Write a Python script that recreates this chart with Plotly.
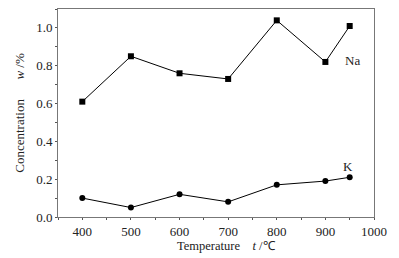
import plotly.graph_objects as go

temps = [400, 500, 600, 700, 800, 900, 950]
na_values = [0.61, 0.85, 0.76, 0.73, 1.04, 0.82, 1.01]
k_values = [0.10, 0.05, 0.12, 0.08, 0.17, 0.19, 0.21]
x_ticks = [400, 500, 600, 700, 800, 900, 1000]
y_ticks = [0.0, 0.2, 0.4, 0.6, 0.8, 1.0]

font = "Liberation Serif, Times New Roman, serif"

fig = go.Figure()
fig.add_trace(go.Scatter(x=temps, y=na_values, mode="lines+markers",
                         line=dict(color="black", width=1),
                         marker=dict(symbol="square", size=6, color="black"),
                         showlegend=False))
fig.add_trace(go.Scatter(x=temps, y=k_values, mode="lines+markers",
                         line=dict(color="black", width=1),
                         marker=dict(symbol="circle", size=6, color="black"),
                         showlegend=False))

fig.add_annotation(x=936, y=0.83, text="Na", showarrow=False,
                   xanchor="left", yanchor="middle", font=dict(family=font, size=13, color="#222"))
fig.add_annotation(x=946, y=0.265, text="K", showarrow=False,
                   xanchor="center", yanchor="middle", font=dict(family=font, size=13, color="#222"))

# x-axis title placed as paper annotation to match reference placement
fig.add_annotation(xref="paper", yref="paper", x=0.532, y=0, yshift=-38,
                   text="Temperature    <i>t</i> /℃", showarrow=False,
                   xanchor="center", yanchor="bottom",
                   font=dict(family=font, size=12.5, color="#222"))

axis_common = dict(showline=True, linecolor="#777", linewidth=1, mirror=True,
                   ticks="outside", ticklen=2, tickcolor="#555", showgrid=False,
                   zeroline=False, automargin=False,
                   tickfont=dict(family=font, size=13, color="#222"))

fig.update_xaxes(range=[350, 1000], tickvals=x_ticks,
                 minor=dict(ticks="outside", ticklen=2, dtick=50, tick0=350, tickcolor="#555"),
                 **axis_common)
fig.update_yaxes(range=[0, 1.1], tickvals=y_ticks, tickformat=".1f",
                 minor=dict(ticks="outside", ticklen=2, dtick=0.1, tick0=0, tickcolor="#555"),
                 title=dict(text="Concentration      <i>w</i> /%", font=dict(family=font, size=13, color="#222"), standoff=8),
                 **axis_common)

# page body has an 8px default margin; compensate so the plot lands where the reference has it
fig.update_layout(width=391, height=250, margin=dict(l=50, r=25, t=1, b=41),
                  plot_bgcolor="white", paper_bgcolor="white",
                  font=dict(family=font, color="#222"))

fig.write_html("out.html")
